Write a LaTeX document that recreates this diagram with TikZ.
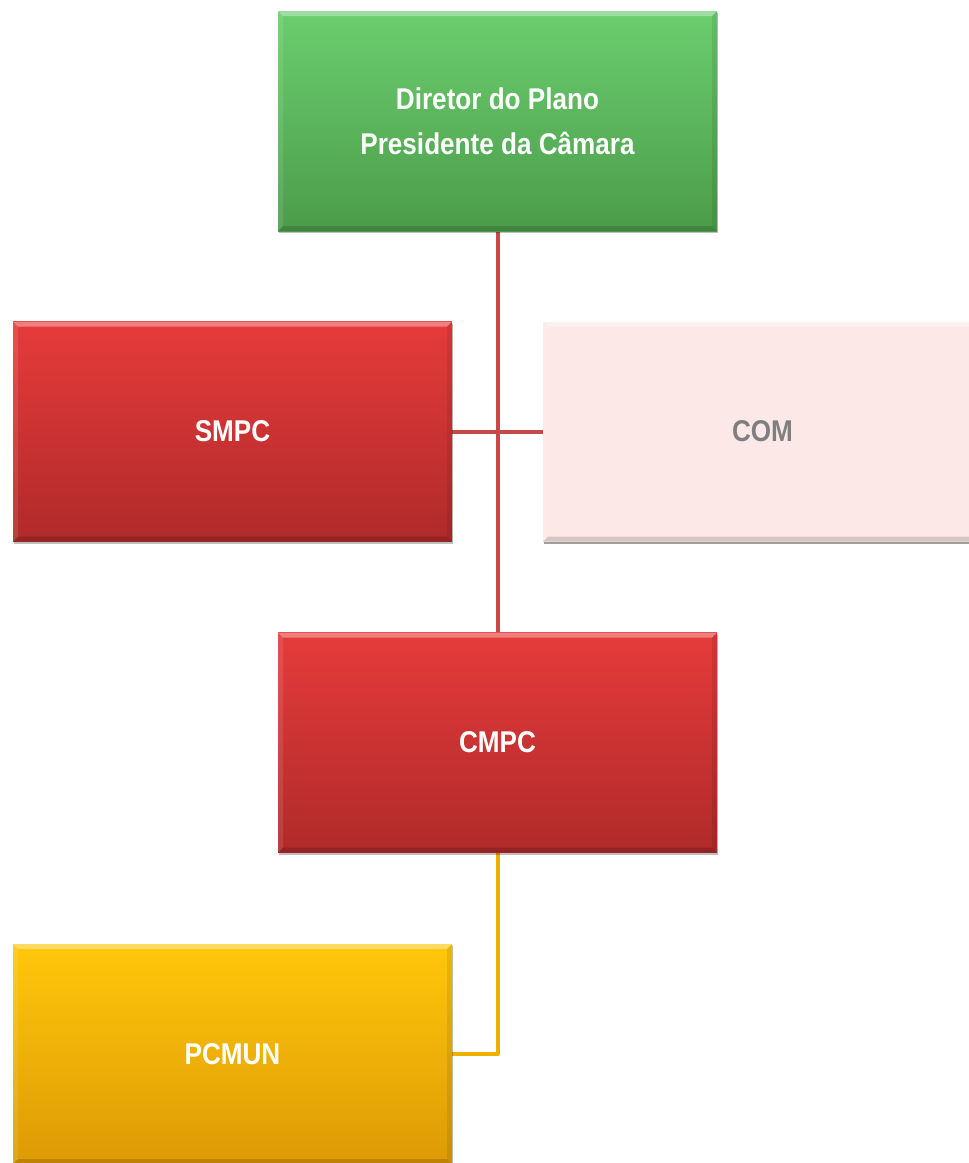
\documentclass[tikz,border=0pt]{standalone}
\usepackage{fontspec}
\newfontfamily\lblfont{Liberation Sans}[FakeStretch=0.87]
\usetikzlibrary{shadows,backgrounds}
\definecolor{grtop}{HTML}{6BCE6F}
\definecolor{grbot}{HTML}{4C9C4A}
\definecolor{rdtop}{HTML}{E63B3B}
\definecolor{rdbot}{HTML}{B02A2A}
\definecolor{yltop}{HTML}{FFC70B}
\definecolor{ylbot}{HTML}{DD9A05}
\definecolor{pinkfill}{HTML}{FDE8E8}
\definecolor{comtext}{HTML}{7F7F7F}
\definecolor{redline}{HTML}{C94848}
\definecolor{yelline}{HTML}{F0B000}
\tikzset{
  bevel/.style={path picture={
    \path (path picture bounding box.north west) coordinate (nw)
          (path picture bounding box.north east) coordinate (ne)
          (path picture bounding box.south east) coordinate (se)
          (path picture bounding box.south west) coordinate (sw);
    \fill[white,opacity=.35] (nw) -- (ne) -- ([xshift=-5pt,yshift=-5pt]ne) -- ([xshift=5pt,yshift=-5pt]nw) -- cycle;
    \fill[black,opacity=.15] (sw) -- (se) -- ([xshift=-5pt,yshift=5pt]se) -- ([xshift=5pt,yshift=5pt]sw) -- cycle;
    \fill[black,opacity=.08] (ne) -- (se) -- ([xshift=-5pt,yshift=5pt]se) -- ([xshift=-5pt,yshift=-5pt]ne) -- cycle;
    \fill[white,opacity=.10] (nw) -- (sw) -- ([xshift=5pt,yshift=5pt]sw) -- ([xshift=5pt,yshift=-5pt]nw) -- cycle;
  }},
  orgbox/.style={rectangle, minimum width=439pt, minimum height=220pt, inner sep=0pt,
    font=\lblfont\bfseries\fontsize{30}{45}\selectfont, text=white, align=center,
    drop shadow={shadow xshift=1pt, shadow yshift=-2pt, opacity=.25, fill=black},
    bevel},
  greenbox/.style={orgbox, top color=grtop, bottom color=grbot},
  redbox/.style={orgbox, top color=rdtop, bottom color=rdbot},
  yellowbox/.style={orgbox, top color=yltop, bottom color=ylbot},
  pinkbox/.style={orgbox, fill=pinkfill, text=comtext,
    drop shadow={shadow xshift=1pt, shadow yshift=-2pt, opacity=.35, fill=black!60}},
  redlink/.style={draw=redline, line width=4pt},
  yellink/.style={draw=yelline, line width=4pt, line join=round},
}
\begin{document}
\begin{tikzpicture}[x=1pt,y=-1pt]
\useasboundingbox (0,0) rectangle (969,1163);
\clip (0,0) rectangle (969,1163);
% boxes
\node[greenbox] (top) at (497.5,121) {Diretor do Plano\\Presidente da Câmara};
\node[redbox] (smpc) at (232.5,431.5) {SMPC};
\node[pinkbox] (com) at (762.5,431.5) {COM};
\node[redbox] (cmpc) at (497.5,742.5) {CMPC};
\node[yellowbox] (pcmun) at (232.5,1054) {PCMUN};
% connectors behind the boxes
\begin{scope}[on background layer]
\draw[redlink] (top.south) -- (cmpc.north);
\draw[redlink] (smpc.east) -- (com.west);
\draw[yellink] (cmpc.south) |- (pcmun.east);
\end{scope}
\end{tikzpicture}
\end{document}
